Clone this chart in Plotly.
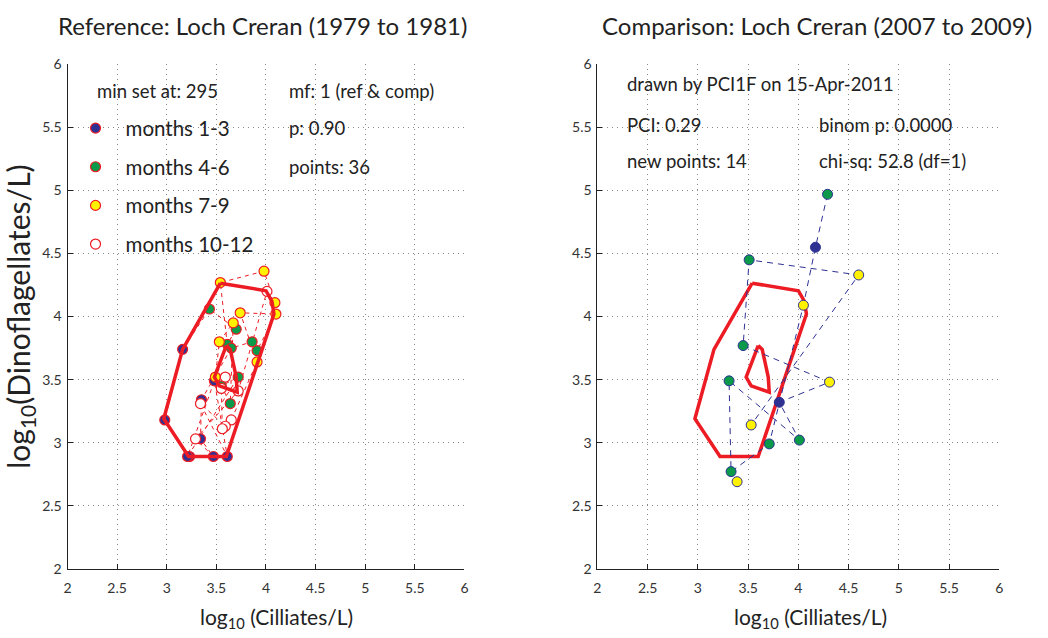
import plotly.graph_objects as go

# ---- reference period (Loch Creran 1979-1981), 36 monthly samples in time order ----
ref_x = [3.23, 2.98, 3.16, 3.43, 3.70, 3.61, 3.54, 3.98, 4.09, 4.01, 3.72, 3.29,
         3.47, 3.34, 3.35, 3.65, 3.86, 3.91, 4.10, 3.74, 3.91, 3.65, 3.59, 3.34,
         3.61, 3.48, 3.21, 3.72, 3.55, 3.64, 3.67, 3.53, 3.49, 3.59, 3.55, 3.56]
ref_y = [2.89, 3.18, 3.74, 4.06, 3.90, 3.78, 4.27, 4.36, 4.11, 4.20, 3.41, 3.03,
         2.89, 3.03, 3.34, 3.75, 3.80, 3.73, 4.02, 4.03, 3.64, 3.18, 3.13, 3.31,
         2.89, 3.49, 2.89, 3.52, 3.45, 3.31, 3.95, 3.80, 3.52, 3.52, 3.43, 3.11]
ref_month = [1, 2, 3, 4, 5, 6, 7, 8, 9, 10, 11, 12] * 3

# ---- comparison period (2007-2009), 14 samples in time order; None marks a break ----
cmp_x = [4.29, 4.17, 4.05, 3.71, 3.33, 3.31, 4.01, 3.81, 4.31, 3.45, 3.51, 4.60, 3.53, None, 3.39]
cmp_y = [4.97, 4.55, 4.09, 2.99, 2.77, 3.49, 3.02, 3.32, 3.48, 3.77, 4.45, 4.33, 3.14, None, 2.69]
cmp_month = [5, 1, 8, 5, 6, 4, 5, 2, 7, 6, 4, 9, 8, None, 7]

# ---- reference envelopes (outer and inner contours) ----
hull_outer_x = [3.54, 4.00, 4.06, 4.08, 3.60, 3.22, 2.97, 3.16, 3.54]
hull_outer_y = [4.265, 4.205, 4.12, 4.02, 2.89, 2.89, 3.19, 3.74, 4.265]
hull_inner_x = [3.60, 3.64, 3.70, 3.71, 3.53, 3.48, 3.60]
hull_inner_y = [3.77, 3.74, 3.52, 3.40, 3.45, 3.52, 3.77]

ticks = [2, 2.5, 3, 3.5, 4, 4.5, 5, 5.5, 6]
tick_text = ["2", "2.5", "3", "3.5", "4", "4.5", "5", "5.5", "6"]

quarters = [("months 1-3", (1, 3), "#2e3192"),
            ("months 4-6", (4, 6), "#0a9a4a"),
            ("months 7-9", (7, 9), "#fff200"),
            ("months 10-12", (10, 12), "white")]

RED = "#ed1c24"
NAVY = "#2e3192"
FONT = "Lato, Roboto, Arial, sans-serif"
TXT = 18.5

fig = go.Figure()

# time-series trail of the reference samples
fig.add_trace(go.Scatter(x=ref_x, y=ref_y, mode="lines",
                         line=dict(color=RED, width=1, dash="4px,4px"),
                         showlegend=False, hoverinfo="skip", xaxis="x", yaxis="y"))

for name, (m0, m1), col in quarters:
    xs = [x for x, m in zip(ref_x, ref_month) if m0 <= m <= m1]
    ys = [y for y, m in zip(ref_y, ref_month) if m0 <= m <= m1]
    fig.add_trace(go.Scatter(x=xs, y=ys, mode="markers", name=name,
                             marker=dict(size=10, color=col, line=dict(color=RED, width=1.2)),
                             legendgroup=name, xaxis="x", yaxis="y"))

# envelopes on both panels
for xa, ya in (("x", "y"), ("x2", "y2")):
    for hx, hy in ((hull_outer_x, hull_outer_y), (hull_inner_x, hull_inner_y)):
        fig.add_trace(go.Scatter(x=hx, y=hy, mode="lines",
                                 line=dict(color=RED, width=3.5),
                                 showlegend=False, hoverinfo="skip", xaxis=xa, yaxis=ya))

# comparison trail and points
fig.add_trace(go.Scatter(x=cmp_x, y=cmp_y, mode="lines",
                         line=dict(color=NAVY, width=1, dash="6px,5px"),
                         showlegend=False, hoverinfo="skip", xaxis="x2", yaxis="y2",
                         connectgaps=False))
for name, (m0, m1), col in quarters:
    pts = [(x, y) for x, y, m in zip(cmp_x, cmp_y, cmp_month)
           if m is not None and m0 <= m <= m1]
    if not pts:
        continue
    fig.add_trace(go.Scatter(x=[p[0] for p in pts], y=[p[1] for p in pts], mode="markers",
                             marker=dict(size=10, color=col, line=dict(color=NAVY, width=1)),
                             showlegend=False, xaxis="x2", yaxis="y2"))

axis_common = dict(range=[2, 6], tickvals=ticks, ticktext=tick_text,
                   showgrid=True, gridcolor="#8a8a8a", griddash="1px,4px", gridwidth=1,
                   showline=True, linecolor="#222", linewidth=1,
                   ticks="inside", ticklen=5, tickcolor="#222",
                   tickfont=dict(family=FONT, size=14, color="#333"),
                   zeroline=False, fixedrange=True)

yd = [1 - 575 / 638, 1 - 57 / 638]
fig.update_layout(
    width=1048, height=638, autosize=False,
    margin=dict(l=0, r=0, t=0, b=0),
    paper_bgcolor="white", plot_bgcolor="white",
    font=dict(family=FONT, color="#222"),
    xaxis=dict(domain=[64 / 1048, 464 / 1048], anchor="y", ticklabelstandoff=7, **axis_common),
    yaxis=dict(domain=yd, anchor="x", ticklabelstandoff=2,
               title=dict(text="log<sub>10</sub>(Dinoflagellates/L)", font=dict(size=30), standoff=6),
               **axis_common),
    xaxis2=dict(domain=[598 / 1048, 1003 / 1048], anchor="y2", ticklabelstandoff=7, **axis_common),
    yaxis2=dict(domain=yd, anchor="x2", ticklabelstandoff=2, **axis_common),
    showlegend=True,
    legend=dict(x=62 / 1048, y=1 - 102 / 638, xanchor="left", yanchor="top",
                bgcolor="rgba(0,0,0,0)", borderwidth=0,
                font=dict(family=FONT, size=20.5, color="#222"),
                tracegroupgap=9, itemwidth=50),
)

ann = []
def label(text, x, y, size=TXT, anchor="left"):
    ann.append(dict(text=text, x=x / 1048, y=1 - y / 638, xref="paper", yref="paper",
                    xanchor=anchor, yanchor="middle", showarrow=False,
                    font=dict(family=FONT, size=size, color="#222")))

label("Reference: Loch Creran (1979 to 1981)", 260, 17, size=24, anchor="center")
label("Comparison: Loch Creran (2007 to 2009)", 819, 17, size=24, anchor="center")
label("log<sub>10</sub> (Cilliates/L)", 275, 626, size=21, anchor="center")
label("log<sub>10</sub> (Cilliates/L)", 813, 626, size=21, anchor="center")
label("min set at: 295", 92, 84)
label("mf: 1 (ref &amp; comp)", 285, 84)
label("p: 0.90", 285, 122)
label("points: 36", 285, 162)
label("drawn by PCI1F on 15-Apr-2011", 626, 77)
label("PCI: 0.29", 626, 119)
label("binom p: 0.0000", 819, 119)
label("new points: 14", 626, 156)
label("chi-sq: 52.8 (df=1)", 819, 156)
fig.update_layout(annotations=ann)

fig.write_html("out.html")
